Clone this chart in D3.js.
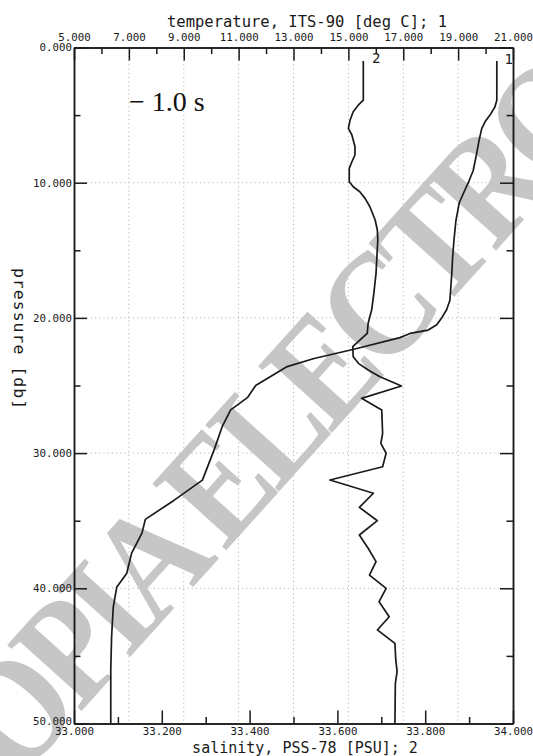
<!DOCTYPE html>
<html>
<head>
<meta charset="utf-8">
<script src="https://cdn.jsdelivr.net/npm/d3@7"></script>
<style>
  body { margin: 0; background: #fff; }
  svg { display: block; }
  .mono { font-family: "DejaVu Sans Mono", monospace; fill: #1a1a1a; }
  .axis path, .axis line { stroke: #1a1a1a; stroke-width: 1.5; }
  .axis text { font-family: "DejaVu Sans Mono", monospace; font-size: 10.8px; fill: #1a1a1a; }
</style>
</head>
<body>
<svg id="chart" width="533" height="756"></svg>
<script>
// CTD cast: temperature (curve 1) and salinity (curve 2) against pressure
const tempPressure = [1.0, 3.9, 4.4, 5.0, 5.5, 6.0, 6.8, 7.8, 9.1, 10.0, 10.8, 11.5, 12.8, 14.2,
  15.5, 16.7, 18.7, 19.4, 20.0, 20.5, 20.9, 21.15, 21.46, 22.32, 23.0, 23.6, 25.0, 25.9, 26.8,
  28.0, 29.8, 32.0, 33.5, 34.9, 35.9, 36.7, 37.4, 38.9, 39.9, 41.4, 43.6, 46.0, 50.0];
const temperature = [20.41, 20.41, 20.34, 20.16, 19.98, 19.86, 19.77, 19.68, 19.55, 19.37, 19.19,
  19.04, 18.92, 18.85, 18.80, 18.77, 18.70, 18.58, 18.40, 18.22, 17.91, 17.25, 16.88, 15.20,
  13.75, 12.77, 11.62, 11.32, 10.71, 10.41, 10.10, 9.68, 8.64, 7.60, 7.48, 7.28, 7.10, 6.92,
  6.56, 6.43, 6.37, 6.34, 6.34];

const salPressure = [1.0, 3.9, 4.25, 4.75, 5.36, 5.98, 6.47, 7.34, 7.95, 8.45, 8.94, 9.93, 10.3,
  10.67, 11.16, 11.78, 12.76, 13.5, 14.24, 15.47, 16.7, 18.18, 19.42, 20.4, 21.14, 21.64, 22.13,
  22.87, 23.36, 23.85, 24.35, 25.04, 25.95, 26.81, 28.54, 29.28, 30.01, 31.01, 31.99, 32.97,
  34.01, 35.0, 36.06, 37.04, 38.03, 39.02, 40.0, 40.99, 42.1, 43.08, 44.07, 45.3, 46.17, 47.03, 50.0];
const salinity = [33.659, 33.659, 33.648, 33.636, 33.629, 33.625, 33.633, 33.640, 33.640, 33.633,
  33.627, 33.627, 33.636, 33.651, 33.663, 33.674, 33.686, 33.691, 33.692, 33.690, 33.688, 33.683,
  33.678, 33.670, 33.668, 33.651, 33.635, 33.636, 33.648, 33.670, 33.697, 33.746, 33.655, 33.701,
  33.703, 33.699, 33.711, 33.703, 33.583, 33.682, 33.650, 33.691, 33.650, 33.670, 33.688, 33.673,
  33.711, 33.695, 33.718, 33.691, 33.731, 33.733, 33.736, 33.732, 33.731];

// Axis ticks
const tempMajor = [5, 7, 9, 11, 13, 15, 17, 19, 21];
const tempMinor = [6, 8, 10, 12, 14, 16, 18, 20];
const salMajor = [33.0, 33.2, 33.4, 33.6, 33.8, 34.0];
const salMinor = [33.1, 33.3, 33.5, 33.7, 33.9];
const presMajor = [0, 10, 20, 30, 40, 50];
const presMinor = [5, 15, 25, 35, 45];

const titleTop = "temperature, ITS-90 [deg C]; 1";
const titleBottom = "salinity, PSS-78 [PSU]; 2";
const titleLeft = "pressure [db]";
const lagLabel = "\u2212 1.0 s";
const stamp = "COPIA ELECTRONICA";

const svg = d3.select("#chart");
const L = 74, R = 513, T = 47.5, B = 723.5;

const xT = d3.scaleLinear().domain([5, 21]).range([L, R]);
const xS = d3.scaleLinear().domain([33, 34]).range([L, R]);
const yP = d3.scaleLinear().domain([0, 50]).range([T, B]);
const fmt = d3.format(".3f");

// dotted grid
const grid = svg.append("g").attr("stroke", "#b5b5b5").attr("stroke-width", 1)
  .attr("stroke-dasharray", "1.2,3");
grid.selectAll("line.v").data(tempMajor.slice(1, -1)).join("line")
  .attr("x1", d => xT(d)).attr("x2", d => xT(d)).attr("y1", T).attr("y2", B);
grid.selectAll("line.h").data(presMajor.slice(1, -1)).join("line")
  .attr("y1", d => yP(d)).attr("y2", d => yP(d)).attr("x1", L).attr("x2", R);

// stamp across the sheet
svg.append("text")
  .attr("transform", "translate(-41,847) rotate(-48) scale(1,1.15)")
  .attr("font-family", "'Liberation Serif', 'Times New Roman', serif")
  .attr("font-weight", "bold")
  .attr("font-size", 132)
  .attr("letter-spacing", -9)
  .attr("fill", "#c6c6c6")
  .text(stamp);

// axes, ticks pointing inward
function addAxis(axis, tx, ty) {
  return svg.append("g").attr("class", "axis").attr("transform", `translate(${tx},${ty})`).call(axis);
}
addAxis(d3.axisTop(xT).tickValues(tempMinor).tickSize(-6.5).tickSizeOuter(0).tickFormat(""), 0, T);
addAxis(d3.axisTop(xT).tickValues(tempMajor).tickSize(-13).tickSizeOuter(0).tickPadding(7).tickFormat(fmt), 0, T);
addAxis(d3.axisBottom(xS).tickValues(salMinor).tickSize(-6.5).tickSizeOuter(0).tickFormat(""), 0, B);
addAxis(d3.axisBottom(xS).tickValues(salMajor).tickSize(-13).tickSizeOuter(0).tickPadding(4.3).tickFormat(fmt), 0, B);
addAxis(d3.axisLeft(yP).tickValues(presMinor).tickSize(-6.5).tickSizeOuter(0).tickFormat(""), L, 0);
const yAx = addAxis(d3.axisLeft(yP).tickValues(presMajor).tickSize(-13).tickSizeOuter(0).tickPadding(2).tickFormat(fmt), L, 0);
// bottom label sits a little above its tick
yAx.selectAll(".tick text").attr("dy", d => d === 50 ? "0.05em" : "0.32em");
addAxis(d3.axisRight(yP).tickValues(presMinor).tickSize(-6.5).tickSizeOuter(0).tickFormat(""), R, 0);
addAxis(d3.axisRight(yP).tickValues(presMajor).tickSize(-13).tickSizeOuter(0).tickFormat(""), R, 0);

// profiles
const tempLine = d3.line().x(i => xT(temperature[i])).y(i => yP(tempPressure[i]));
const salLine = d3.line().x(i => xS(salinity[i])).y(i => yP(salPressure[i]));
svg.append("path").attr("d", tempLine(d3.range(temperature.length)))
  .attr("fill", "none").attr("stroke", "#1a1a1a").attr("stroke-width", 1.7).attr("stroke-linejoin", "round");
svg.append("path").attr("d", salLine(d3.range(salinity.length)))
  .attr("fill", "none").attr("stroke", "#1a1a1a").attr("stroke-width", 1.7).attr("stroke-linejoin", "round");

// curve numbers
svg.append("text").attr("class", "mono").attr("font-size", 14).attr("text-anchor", "middle")
  .attr("x", xT(temperature[0]) + 12).attr("y", yP(tempPressure[0]) + 3).text("1");
svg.append("text").attr("class", "mono").attr("font-size", 14).attr("text-anchor", "middle")
  .attr("x", xS(salinity[0]) + 13).attr("y", yP(salPressure[0]) + 2).text("2");

// titles
svg.append("text").attr("class", "mono").attr("font-size", 15.5).attr("text-anchor", "middle")
  .attr("x", 307).attr("y", 27).text(titleTop);
svg.append("text").attr("class", "mono").attr("font-size", 15).attr("text-anchor", "middle")
  .attr("x", 305).attr("y", 753).text(titleBottom);
svg.append("text").attr("class", "mono").attr("font-size", 16.5).attr("letter-spacing", 1)
  .attr("text-anchor", "middle").attr("transform", "translate(14,339) rotate(90)").text(titleLeft);

svg.append("text")
  .attr("font-family", "'Liberation Serif', 'Times New Roman', serif")
  .attr("font-size", 28).attr("fill", "#111")
  .attr("x", 129).attr("y", 111).text(lagLabel);
</script>
</body>
</html>
